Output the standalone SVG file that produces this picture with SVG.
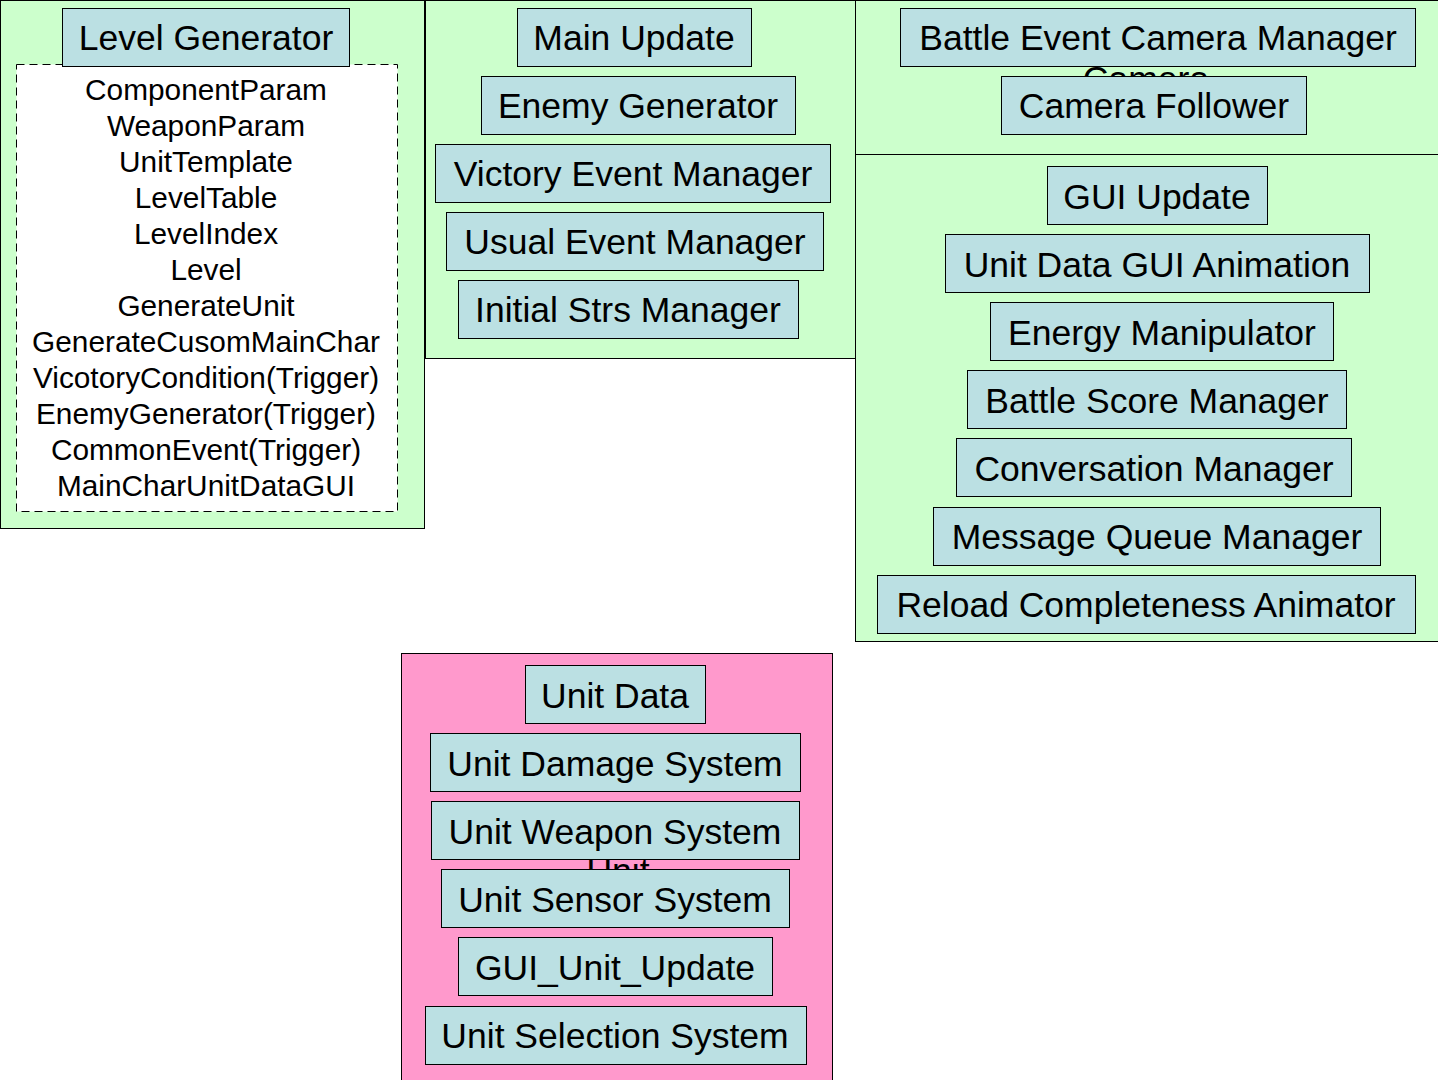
<svg xmlns="http://www.w3.org/2000/svg" width="1438" height="1080" viewBox="0 0 1438 1080">
<style>
.panel{fill:#CCFFCC;stroke:#000;stroke-width:1}
.pink{fill:#FF99CC;stroke:#000;stroke-width:1}
.box{fill:#BBE0E3;stroke:#000;stroke-width:1}
.t{font-family:"Liberation Sans",Arial,sans-serif;font-size:35.5px;fill:#000;text-anchor:middle}
.s{font-family:"Liberation Sans",Arial,sans-serif;font-size:29.8px;fill:#000;text-anchor:middle}
</style>
<rect width="1438" height="1080" fill="#fff"/>
<g id="panel-level">
<rect class="panel" x="0.5" y="0.5" width="424" height="528"/>
<rect x="16.5" y="64.5" width="381" height="447" fill="#fff" stroke="#000" stroke-dasharray="8,5"/>
<text class="s" x="206" y="100">ComponentParam</text>
<text class="s" x="206" y="136">WeaponParam</text>
<text class="s" x="206" y="172">UnitTemplate</text>
<text class="s" x="206" y="208">LevelTable</text>
<text class="s" x="206" y="244">LevelIndex</text>
<text class="s" x="206" y="280">Level</text>
<text class="s" x="206" y="316">GenerateUnit</text>
<text class="s" x="206" y="352">GenerateCusomMainChar</text>
<text class="s" x="206" y="388">VicotoryCondition(Trigger)</text>
<text class="s" x="206" y="424">EnemyGenerator(Trigger)</text>
<text class="s" x="206" y="460">CommonEvent(Trigger)</text>
<text class="s" x="206" y="496">MainCharUnitDataGUI</text>
</g>
<g id="node-level-generator"><rect class="box" x="62.5" y="8.5" width="287" height="58"/><text class="t" x="206" y="50">Level Generator</text></g>
<g id="panel-main"><rect class="panel" x="425.5" y="0.5" width="430" height="358"/></g>
<g id="node-main-update"><rect class="box" x="517.5" y="8.5" width="234" height="58"/><text class="t" x="634" y="50">Main Update</text></g>
<g id="node-enemy-generator"><rect class="box" x="481.5" y="76.5" width="314" height="58"/><text class="t" x="638" y="118">Enemy Generator</text></g>
<g id="node-victory"><rect class="box" x="435.5" y="144.5" width="395" height="58"/><text class="t" x="633" y="186">Victory Event Manager</text></g>
<g id="node-usual"><rect class="box" x="446.5" y="212.5" width="377" height="58"/><text class="t" x="635" y="254">Usual Event Manager</text></g>
<g id="node-initial"><rect class="box" x="458.5" y="280.5" width="340" height="58"/><text class="t" x="628" y="322">Initial Strs Manager</text></g>
<g id="panel-camera"><rect class="panel" x="855.5" y="0.5" width="590" height="154"/><text class="t" x="1146" y="91">Camera</text></g>
<g id="node-battle-camera"><rect class="box" x="900.5" y="8.5" width="515" height="58"/><text class="t" x="1158" y="50">Battle Event Camera Manager</text></g>
<g id="node-camera-follower"><rect class="box" x="1001.5" y="76.5" width="305" height="58"/><text class="t" x="1154" y="118">Camera Follower</text></g>
<g id="panel-gui"><rect class="panel" x="855.5" y="154.5" width="590" height="487"/></g>
<g id="node-gui-update"><rect class="box" x="1047.5" y="166.5" width="220" height="58"/><text class="t" x="1157" y="209">GUI Update</text></g>
<g id="node-unit-data-gui"><rect class="box" x="945.5" y="234.5" width="424" height="58"/><text class="t" x="1157" y="277">Unit Data GUI Animation</text></g>
<g id="node-energy"><rect class="box" x="990.5" y="302.5" width="343" height="58"/><text class="t" x="1162" y="345">Energy Manipulator</text></g>
<g id="node-battle-score"><rect class="box" x="967.5" y="370.5" width="379" height="58"/><text class="t" x="1157" y="413">Battle Score Manager</text></g>
<g id="node-conversation"><rect class="box" x="956.5" y="438.5" width="395" height="58"/><text class="t" x="1154" y="481">Conversation Manager</text></g>
<g id="node-message-queue"><rect class="box" x="933.5" y="507.5" width="447" height="58"/><text class="t" x="1157" y="549">Message Queue Manager</text></g>
<g id="node-reload"><rect class="box" x="877.5" y="575.5" width="538" height="58"/><text class="t" x="1146" y="617">Reload Completeness Animator</text></g>
<g id="panel-unit"><rect class="pink" x="401.5" y="653.5" width="431" height="440"/><text class="t" x="618" y="883">Unit</text></g>
<g id="node-unit-data"><rect class="box" x="525.5" y="665.5" width="180" height="58"/><text class="t" x="615" y="708">Unit Data</text></g>
<g id="node-unit-damage"><rect class="box" x="430.5" y="733.5" width="370" height="58"/><text class="t" x="615" y="776">Unit Damage System</text></g>
<g id="node-unit-weapon"><rect class="box" x="431.5" y="801.5" width="368" height="58"/><text class="t" x="615" y="844">Unit Weapon System</text></g>
<g id="node-unit-sensor"><rect class="box" x="441.5" y="869.5" width="348" height="58"/><text class="t" x="615" y="912">Unit Sensor System</text></g>
<g id="node-gui-unit-update"><rect class="box" x="458.5" y="937.5" width="314" height="58"/><text class="t" x="615" y="980">GUI_Unit_Update</text></g>
<g id="node-unit-selection"><rect class="box" x="425.5" y="1006.5" width="381" height="58"/><text class="t" x="615" y="1048">Unit Selection System</text></g>
<g id="connectors"></g>
</svg>
